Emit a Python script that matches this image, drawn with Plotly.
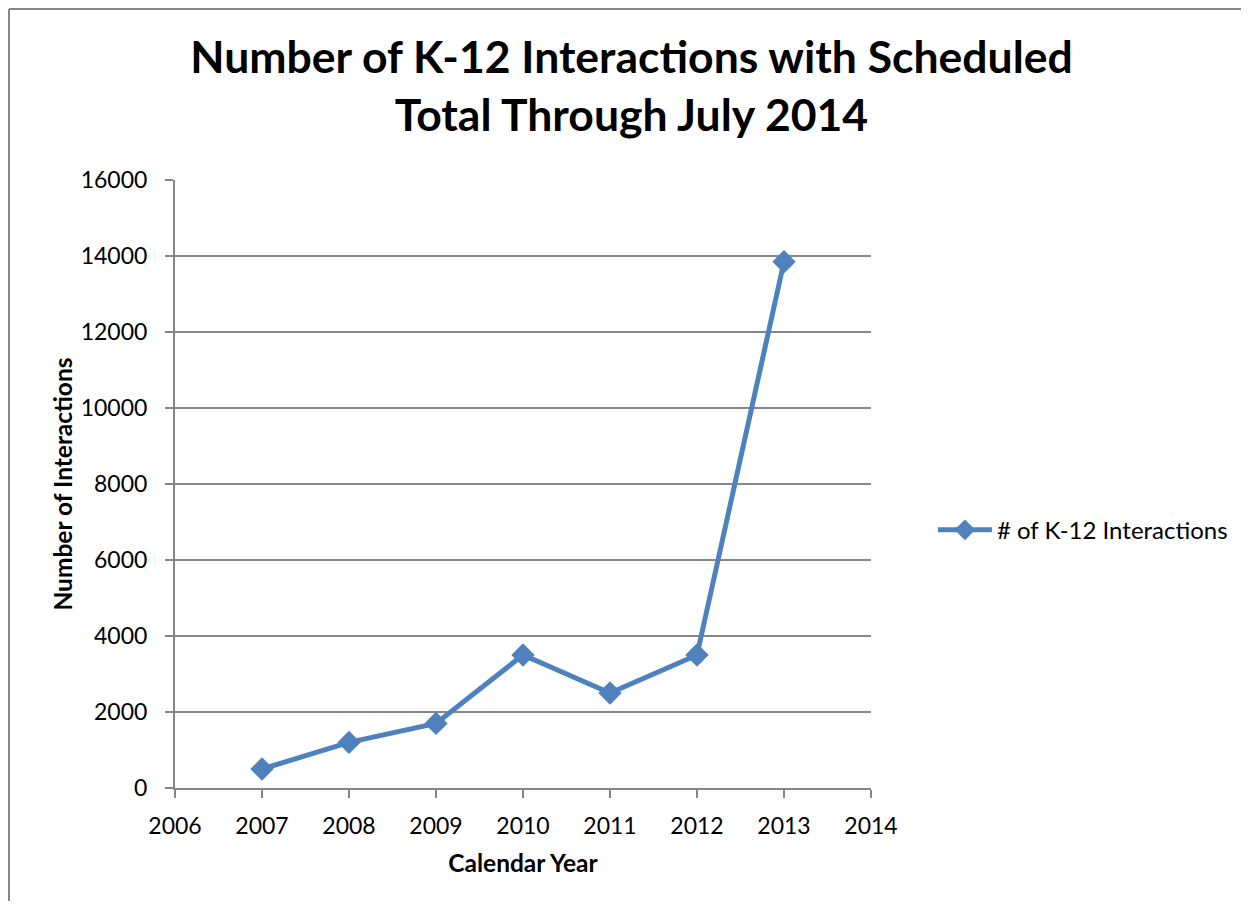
import plotly.graph_objects as go

years = [2007, 2008, 2009, 2010, 2011, 2012, 2013]
interactions = [500, 1200, 1700, 3500, 2500, 3500, 13850]
series_name = "# of K-12 Interactions"
title_text = "Number of K-12 Interactions with Scheduled<br>Total Through July 2014"
x_title = "Calendar Year"
y_title = "Number of Interactions"

FONT = "Lato"
BLUE = "#4F81BD"
GRID = "#868686"

# page body has an 8px margin; size the figure so it fits without scrollbars
L, T, PW, PH = 167, 172, 696, 608
W, H = 1233, 893

fig = go.Figure()
fig.add_trace(go.Scatter(
    x=years, y=interactions, name=series_name, mode="lines+markers",
    line=dict(color=BLUE, width=5),
    marker=dict(symbol="diamond", size=18, color=BLUE),
))

fig.update_layout(
    width=W, height=H,
    paper_bgcolor="white", plot_bgcolor="white",
    margin=dict(l=L, r=W - L - PW, t=T, b=H - T - PH, autoexpand=False),
    title=dict(text=title_text, x=0.5057, xanchor="center", xref="container",
               y=0.9267, yanchor="top", yref="container",
               font=dict(family=FONT, size=44.5, color="black", weight="bold")),
    font=dict(family=FONT, size=23, color="black"),
    showlegend=True,
    legend=dict(x=1.089, y=0.424, xanchor="left", yanchor="middle",
                font=dict(family=FONT, size=24, color="black"),
                bgcolor="rgba(0,0,0,0)", itemwidth=54),
)
fig.update_xaxes(
    range=[2006, 2014], tickmode="linear", tick0=2006, dtick=1, tickformat="d",
    showgrid=False, zeroline=False, showline=True, linecolor=GRID, linewidth=2,
    ticks="outside", ticklen=8, tickcolor=GRID, tickwidth=2, ticklabelstandoff=8,
    title=dict(text=x_title, font=dict(family=FONT, size=24.5, weight="bold"), standoff=17),
    tickfont=dict(size=23),
)
fig.update_yaxes(
    range=[0, 16000], tickmode="linear", tick0=0, dtick=2000, tickformat="d",
    showgrid=True, gridcolor=GRID, gridwidth=2, zeroline=False,
    showline=True, linecolor=GRID, linewidth=2,
    ticks="outside", ticklen=8, tickcolor=GRID, tickwidth=2, ticklabelstandoff=13,
    title=dict(text=y_title, font=dict(family=FONT, size=24.5, weight="bold"), standoff=1),
    tickfont=dict(size=23),
)
# chart-area frame (left and top edges visible in the crop)
fig.add_shape(type="line", xref="paper", yref="paper",
              x0=(1 - L) / PW, x1=(1 - L) / PW, y0=-0.4, y1=(T + PH - 1) / PH,
              line=dict(color=GRID, width=2), layer="below")
fig.add_shape(type="line", xref="paper", yref="paper",
              x0=(1 - L) / PW, x1=1.8, y0=(T + PH - 1) / PH, y1=(T + PH - 1) / PH,
              line=dict(color=GRID, width=2), layer="below")

fig.write_html("out.html")
